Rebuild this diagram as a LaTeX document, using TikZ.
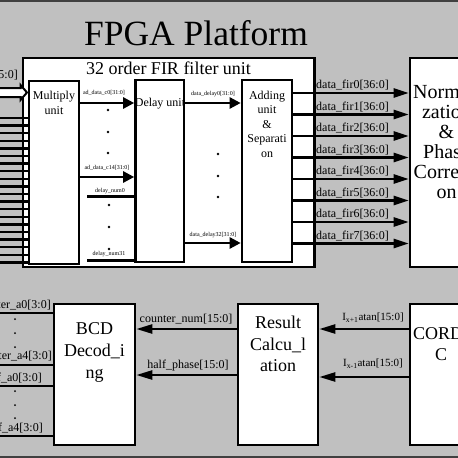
\documentclass[tikz,border=0pt]{standalone}
\usepackage{fontspec}
\setmainfont{Liberation Serif}
\usetikzlibrary{arrows.meta}
\definecolor{bg}{RGB}{192,192,192}
\begin{document}
\begin{tikzpicture}[x=1pt,y=-1pt,
  box/.style={draw, line width=2.6pt, fill=white, inner sep=0pt, rectangle},
  wire/.style={line width=2.4pt},
  thinwire/.style={line width=2pt},
  arrS/.style={line width=2.4pt, -{Triangle[length=11pt,width=11pt]}},
  arrF/.style={line width=2.4pt, -{Triangle[length=15pt,width=9pt]}},
  arrB/.style={line width=2.4pt, -{Triangle[length=16pt,width=9pt]}},
  small/.style={font=\fontsize{6}{7}\selectfont, inner sep=0pt},
  lab/.style={font=\fontsize{12}{14}\selectfont, inner sep=0pt},
  labb/.style={font=\fontsize{11}{13}\selectfont, inner sep=0pt},
  txt/.style={font=\fontsize{12}{14.5}\selectfont, align=center, inner sep=0pt},
  bigtxt/.style={align=center, inner sep=0pt},
  dot/.style={fill=black}]
\useasboundingbox (0,0) rectangle (458,458);
\clip (0,0) rectangle (458,458);
\fill[bg] (0,0) rectangle (458,458);
\draw[line width=2pt, black!75] (0,0.5) -- (458,0.5);
\draw[line width=2pt, black!75] (0,457) -- (458,457);

% title
\node[font=\fontsize{35.5}{40}\selectfont, anchor=base, inner sep=0pt] (title) at (196,45.5) {FPGA Platform};

% FIR outer box
\node[box, minimum width=291.5pt, minimum height=209pt] (fir) at (168.75,162.5) {};
\node[font=\fontsize{18}{20}\selectfont, anchor=base, inner sep=0pt] (firt) at (168.5,74.5) {32 order FIR filter unit};

% inner boxes
\node[box, minimum width=50pt, minimum height=183pt] (mul) at (54,172.5) {};
\node[box, minimum width=48.5pt, minimum height=182pt] (del) at (159.75,171) {};
\node[box, minimum width=50pt, minimum height=182pt] (add) at (267,171) {};
\node[box, minimum width=70pt, minimum height=209pt] (norm) at (445,162.5) {};

\node[txt, anchor=north] (mult) at (54,91) {Multiply\\unit};
\node[txt, anchor=base] (delt) at (160,106.5) {Delay unit};
\node[txt, anchor=north, font=\fontsize{12}{14.5}\selectfont] (addt) at (267,90.5) {Adding\\unit\\\&\\Separati\\on};
\node[bigtxt, anchor=north, font=\fontsize{20}{20}\selectfont] (normt) at (446.5,84) {Normali\\zation\\\&\\Phase\\Correcti\\on};

% input bus
\draw[line width=2pt, fill=white, line join=miter] (-3,88) -- (20.5,88) -- (20.5,85) -- (27,92.5) -- (20.5,100) -- (20.5,97) -- (-3,97) -- cycle;
\node[lab, anchor=base east] (busl) at (18,78.5) {[15:0]};

% input lines
\foreach \i in {0,...,19} {
  \coordinate (in\i) at (-3,{118+\i*7.6});
  \draw[wire] (in\i) -- (in\i -| mul.west);
}

% multiply -> delay
\draw[arrS] (mul.east |- 0,103) -- (del.west |- 0,103);
\node[small, anchor=base] (lc0) at (104,94.5) {ad\_data\_c0[31:0]};
\draw[arrS] (mul.east |- 0,177) -- (del.west |- 0,177);
\node[small, anchor=base] (lc14) at (107,169.5) {ad\_data\_c14[31:0]};
\foreach \y in {110,132,153} { \fill[dot] (108,\y) circle (1.3); }

% delay num
\coordinate (dn0) at (87,196);
\draw[line width=3pt] (dn0) -- (dn0 -| del.west);
\node[small, anchor=base] (ldn0) at (110,192.5) {delay\_num0};
\coordinate (dn31) at (87,260);
\draw[line width=3pt] (dn31) -- (dn31 -| del.west);
\node[small, anchor=base] (ldn31) at (109,255.5) {delay\_num31};
\foreach \y in {205,227,249} { \fill[dot] (109,\y) circle (1.3); }

% delay -> adding
\draw[arrS] (del.east |- 0,103) -- (add.west |- 0,103);
\node[small, anchor=base] (ld0) at (213,95) {data\_delay0[31:0]};
\draw[arrS] (del.east |- 0,243) -- (add.west |- 0,243);
\node[small, anchor=base] (ld32) at (213,236) {data\_delay32[31:0]};
\foreach \y in {154,176,197} { \fill[dot] (218,\y) circle (1.3); }

% adding -> normalization
\foreach \k/\y in {0/93,1/114.5,2/136,3/157.5,4/179,5/200.5,6/222,7/243.5} {
  \draw[arrF] (add.east |- 0,\y) -- (norm.west |- 0,\y);
  \node[lab, anchor=base] (fir\k) at (352.5,\y-4.5) {data\_fir\k[36:0]};
}

% bottom boxes
\node[box, minimum width=81pt, minimum height=141pt] (bcd) at (94.5,374.5) {};
\node[box, minimum width=80pt, minimum height=141pt] (res) at (278,374.5) {};
\node[box, minimum width=70pt, minimum height=141pt] (cor) at (445,374.5) {};
\node[bigtxt, anchor=north, font=\fontsize{18}{22}\selectfont] (bcdt) at (94.5,322) {BCD\\Decod\_i\\ng};
\node[bigtxt, anchor=north, font=\fontsize{18}{21.5}\selectfont] (rest) at (278,316) {Result\\Calcu\_l\\ation};
\node[bigtxt, anchor=north, font=\fontsize{18}{21}\selectfont] (cort) at (441,327) {CORDI\\C};

% bottom arrows
\draw[arrB] (cor.west |- 0,329) -- (res.east |- 0,329);
\node[labb, anchor=base] (lxp) at (373,320.5) {I\textsubscript{x+1}atan[15:0]};
\draw[arrB] (cor.west |- 0,377) -- (res.east |- 0,377);
\node[labb, anchor=base] (lxm) at (373,366.5) {I\textsubscript{x-1}atan[15:0]};
\draw[arrB] (res.west |- 0,329) -- (bcd.east |- 0,329);
\node[lab, anchor=base] (lcn) at (186,322.5) {counter\_num[15:0]};
\draw[arrB] (res.west |- 0,375) -- (bcd.east |- 0,375);
\node[lab, anchor=base] (lhp) at (188,368.5) {half\_phase[15:0]};

% BCD outputs
\coordinate (o1) at (-3,313);
\draw[thinwire] (o1) -- (o1 -| bcd.west);
\node[lab, anchor=base east] (lca0) at (51,308.5) {counter\_a0[3:0]};
\coordinate (o2) at (-3,365);
\draw[thinwire] (o2) -- (o2 -| bcd.west);
\node[lab, anchor=base east] (lca4) at (52,359.5) {counter\_a4[3:0]};
\coordinate (o3) at (-3,386);
\draw[thinwire] (o3) -- (o3 -| bcd.west);
\node[lab, anchor=base east] (lha0) at (42,381.5) {half\_a0[3:0]};
\coordinate (o4) at (-3,436);
\draw[thinwire] (o4) -- (o4 -| bcd.west);
\node[lab, anchor=base east] (lha4) at (43,431.5) {half\_a4[3:0]};
\foreach \y in {319,333,347,391,405,418} { \fill[dot] (15,\y) circle (1); }
\end{tikzpicture}
\end{document}
